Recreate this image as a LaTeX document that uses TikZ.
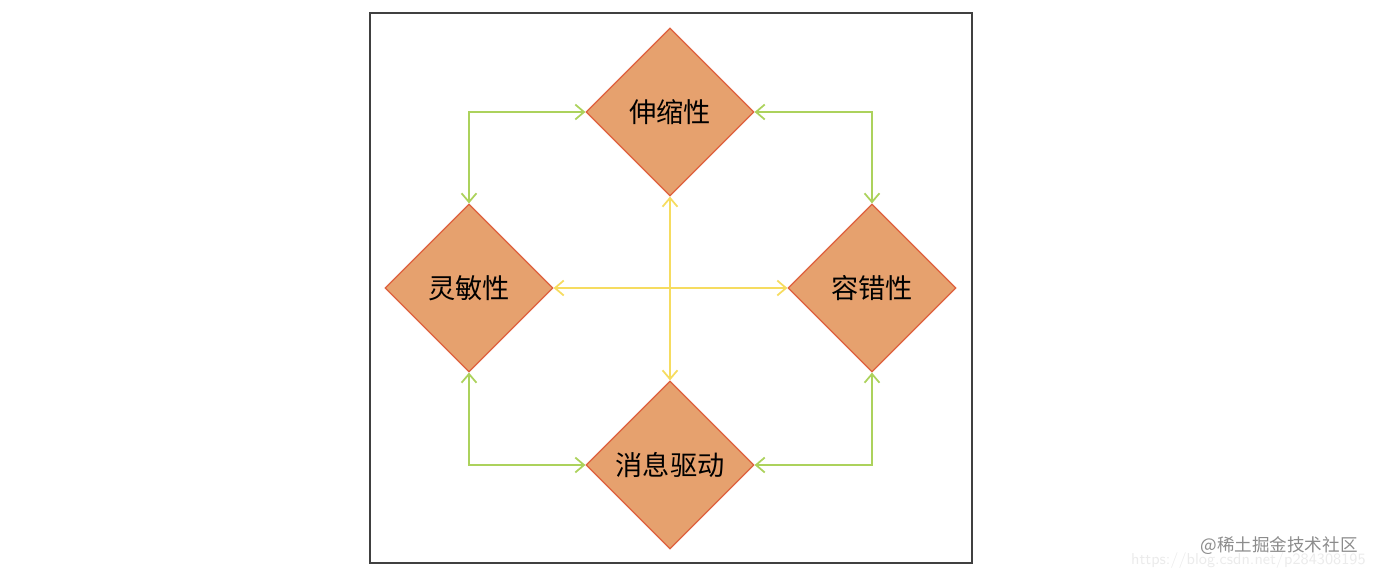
\documentclass[tikz,border=0pt]{standalone}
\usepackage{fontspec}
\usetikzlibrary{shapes.geometric,arrows.meta}
\newfontfamily\cjk{Noto Sans CJK SC}
\definecolor{boxfill}{RGB}{230,161,110}
\definecolor{boxline}{RGB}{222,96,62}
\definecolor{greenline}{RGB}{172,210,92}
\definecolor{yellowline}{RGB}{246,220,96}

\begin{document}
\begin{tikzpicture}[x=0.02cm,y=-0.02cm,
	quality/.style={diamond,draw=boxline,fill=boxfill,line width=0.7pt,minimum width=3.36cm,minimum height=3.36cm,inner sep=0pt,font=\cjk\fontsize{15.5}{18}\selectfont},
	barbs/.style={{Straight Barb[length=5pt,width=8.5pt]}-{Straight Barb[length=5pt,width=8.5pt]}},
	outerlink/.style={greenline,line width=1pt,barbs},
	innerlink/.style={yellowline,line width=1pt,barbs}]
				\useasboundingbox (0,0) rectangle (1376,578);
				\draw[black!75,line width=0.7pt] (370,13) rectangle (972,563);
				\node[quality] (scal) at (670,112) {伸缩性};
				\node[quality] (resp) at (469,288) {灵敏性};
				\node[quality] (fault) at (872,288) {容错性};
				\node[quality] (msg) at (670,465) {消息驱动};
				\draw[outerlink] (resp.north) |- (scal.west);
				\draw[outerlink] (scal.east) -| (fault.north);
				\draw[outerlink] (resp.south) |- (msg.west);
				\draw[outerlink] (fault.south) |- (msg.east);
				\draw[innerlink] (resp.east)--(fault.west);
				\draw[innerlink] (scal.south)--(msg.north);
				\node[anchor=east,text=black!8,inner sep=0pt,font=\sffamily\fontsize{9}{10}\selectfont] (url) at (1366,561) {https://blog.csdn.net/p284308195};
				\node[anchor=east,text=black!45,inner sep=0pt,font=\cjk\fontsize{10}{12}\selectfont] (mark) at (1358,546) {@稀土掘金技术社区};
			\end{tikzpicture}
\end{document}
